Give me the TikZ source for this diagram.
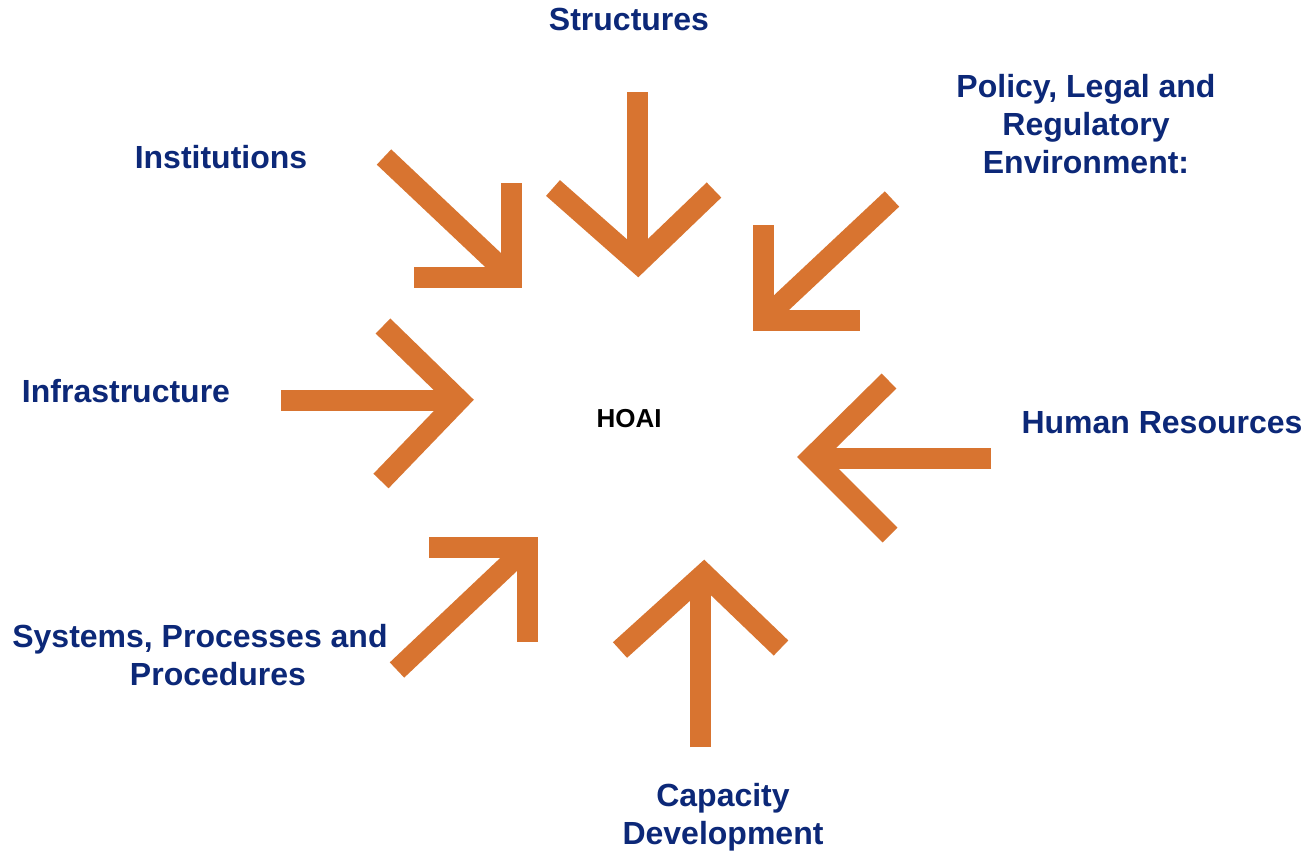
\documentclass[tikz,border=0pt]{standalone}
\usepackage{fontspec}
\setmainfont{Liberation Sans}
\definecolor{arroworange}{RGB}{216,116,48}
\definecolor{labelblue}{RGB}{12,40,120}
\begin{document}
\begin{tikzpicture}[x=0.75pt,y=-0.75pt,
  arr/.style={draw=arroworange,line width=15.75pt,line join=miter,line cap=butt},
  lbl/.style={text=labelblue,font=\fontsize{24}{28.2}\selectfont\bfseries,align=center,inner sep=0pt,anchor=base},
  ctr/.style={text=black,font=\fontsize{19.5}{23}\selectfont\bfseries,inner sep=0pt,anchor=base}]
\useasboundingbox (0,0) rectangle (1311,851);
\fill[white] (0,0) rectangle (1311,851);
% center label
\node[ctr] (hoai) at (629,427) {HOAI};
% labels (base = baseline of last line)
\node[lbl] (structures) at (629,30) {Structures};
\node[lbl] (policy) at (1086,173) {Policy, Legal and\\Regulatory\\Environment:};
\node[lbl] (institutions) at (221,168) {Institutions};
\node[lbl] (infra) at (126,402) {Infrastructure};
\node[lbl] (human) at (1162,433) {Human Resources};
\node[lbl] (systems) at (200,685) {Systems, Processes and\\\hspace*{27pt}Procedures};
\node[lbl] (capacity) at (723,844) {Capacity\\Development};
% arrows
% Institutions (down-right)
\draw[arr] (384,157) -- (510,276);
\draw[arr] (511,183) -- (511,277) -- (414,277);
% Structures (down)
\draw[arr] (637,92) -- (637,262);
\draw[arr] (553,188) -- (638,263) -- (714,190);
% Policy (down-left)
\draw[arr] (892,199) -- (764,319);
\draw[arr] (763,225) -- (763,320) -- (860,320);
% Infrastructure (right)
\draw[arr] (281,400) -- (458,400);
\draw[arr] (383,326) -- (459,400) -- (381,481);
% Human Resources (left)
\draw[arr] (991,458) -- (813,458);
\draw[arr] (889,381) -- (812,457) -- (890,535);
% Systems (up-right)
\draw[arr] (397,670) -- (526,548);
\draw[arr] (429,547) -- (527,547) -- (527,642);
% Capacity (up)
\draw[arr] (700,747) -- (700,575);
\draw[arr] (620,650) -- (704,574) -- (781,648);
\end{tikzpicture}
\end{document}
